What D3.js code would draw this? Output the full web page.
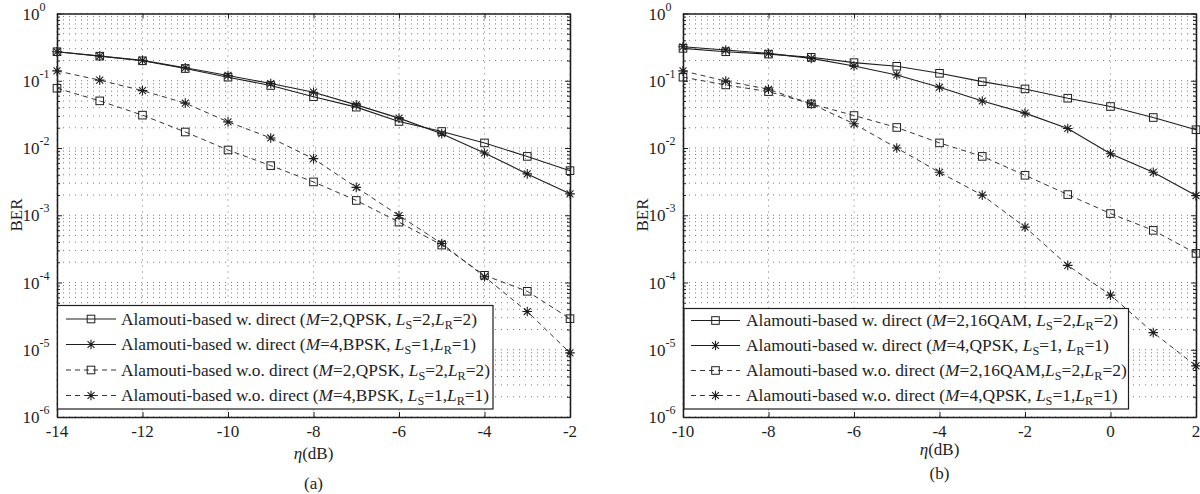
<!DOCTYPE html>
<html><head><meta charset="utf-8">
<script src="https://cdn.jsdelivr.net/npm/d3@7"></script>
<style>body{margin:0;background:#fff}svg{display:block}</style>
</head><body>
<svg id="c" width="1200" height="494"></svg>
<script>
// ---------- data ----------
const etaA = [-14,-13,-12,-11,-10,-9,-8,-7,-6,-5,-4,-3,-2];
const berA_wDirect_M2 = [0.27,0.232,0.198,0.152,0.113,0.085,0.058,0.0405,0.0248,0.0176,0.0119,0.0075,0.0046];
const berA_wDirect_M4 = [0.27,0.233,0.201,0.156,0.12,0.091,0.0676,0.0438,0.0278,0.0163,0.00843,0.00412,0.00208];
const berA_woDirect_M2 = [0.0774,0.0502,0.0308,0.0173,0.00934,0.00547,0.00313,0.00166,0.00079,0.00036,0.000128,0.000074,0.000029];
const berA_woDirect_M4 = [0.14,0.102,0.0713,0.0465,0.0245,0.0141,0.00694,0.0026,0.00099,0.00038,0.000122,0.000037,0.000009];

const etaB = [-10,-9,-8,-7,-6,-5,-4,-3,-2,-1,0,1,2];
const berB_wDirect_M2 = [0.303,0.27,0.249,0.223,0.186,0.164,0.129,0.097,0.0756,0.055,0.0414,0.0284,0.0187];
const berB_wDirect_M4 = [0.32,0.286,0.255,0.215,0.166,0.122,0.08,0.05,0.033,0.0195,0.0082,0.00435,0.00196];
const berB_woDirect_M2 = [0.113,0.0867,0.069,0.0453,0.0304,0.0202,0.0119,0.0075,0.00393,0.00203,0.00106,0.000596,0.000271];
const berB_woDirect_M4 = [0.14,0.099,0.0748,0.0453,0.0229,0.01,0.00435,0.00199,0.000667,0.00018,0.000065,0.000018,0.00000575];

const xTicksA = [-14,-12,-10,-8,-6,-4,-2];
const xTicksB = [-10,-8,-6,-4,-2,0,2];
const yDecades = [-6,-5,-4,-3,-2,-1,0];

const legendA = [
  "Alamouti-based w. direct (*M*=2,QPSK, *L*_S=2,*L*_R=2)",
  "Alamouti-based w. direct (*M*=4,BPSK, *L*_S=1,*L*_R=1)",
  "Alamouti-based w.o. direct (*M*=2,QPSK, *L*_S=2,*L*_R=2)",
  "Alamouti-based w.o. direct (*M*=4,BPSK, *L*_S=1,*L*_R=1)"
];
const legendB = [
  "Alamouti-based w. direct (*M*=2,16QAM, *L*_S=2,*L*_R=2)",
  "Alamouti-based w. direct (*M*=4,QPSK, *L*_S=1, *L*_R=1)",
  "Alamouti-based w.o. direct (*M*=2,16QAM,*L*_S=2,*L*_R=2)",
  "Alamouti-based w.o. direct (*M*=4,QPSK, *L*_S=1,*L*_R=1)"
];
const xLabel = "(dB)";
const yLabel = "BER";
const captions = ["(a)", "(b)"];

// ---------- drawing ----------
const svg = d3.select('#c');
const FONT = '"Liberation Serif","Times New Roman",serif';
const Y_TOP = 13.5, Y_BOT = 417;
const INK = '#1e1e1e';

const seriesStyles = [
  {marker:'square', dash:null},
  {marker:'star', dash:null},
  {marker:'square', dash:'5,4'},
  {marker:'star', dash:'5,4'}
];

function drawMarker(g, type, cx, cy) {
  if (type === 'square') {
    g.append('rect').attr('x', cx-3.8).attr('y', cy-3.8).attr('width', 7.6).attr('height', 7.6)
      .attr('fill','none').attr('stroke', INK).attr('stroke-width', 1);
  } else {
    const r = 4.8, d = r*0.72;
    const p = `M${cx-r},${cy}L${cx+r},${cy}M${cx},${cy-r}L${cx},${cy+r}M${cx-d},${cy-d}L${cx+d},${cy+d}M${cx-d},${cy+d}L${cx+d},${cy-d}`;
    g.append('path').attr('d', p).attr('stroke', INK).attr('stroke-width', 1.1).attr('fill','none');
  }
}

function parseRich(s) {
  const out = [];
  const re = /\*([^*]+)\*|_(\w)|([^*_]+)/g;
  let m;
  while ((m = re.exec(s))) {
    if (m[1]) out.push({t:m[1], it:true});
    else if (m[2]) out.push({t:m[2], sub:true});
    else out.push({t:m[3]});
  }
  return out;
}

function richText(g, x, y, str, size) {
  const t = g.append('text').attr('x', x).attr('y', y)
    .attr('font-family', FONT).attr('font-size', size).attr('fill', INK);
  let shift = 0;
  parseRich(str).forEach(seg => {
    const ts = t.append('tspan').text(seg.t);
    if (seg.it) ts.attr('font-style','italic');
    if (seg.sub) {
      ts.attr('font-size', size*0.7).attr('dy', 4 - shift); shift = 4;
    } else if (shift !== 0) {
      ts.attr('dy', -shift); shift = 0;
    }
  });
  return t;
}

function panel(cfg) {
  const g = svg.append('g');
  const x = d3.scaleLinear().domain(cfg.domain).range([cfg.x0, cfg.x1]);
  const y = d3.scaleLog().domain([1e-6, 1]).range([Y_BOT, Y_TOP]);

  const majorY = yDecades.map(e => Math.pow(10, e));
  const minorY = [];
  yDecades.slice(0, -1).forEach(e => { for (let k = 2; k <= 9; k++) minorY.push(k*Math.pow(10, e)); });

  // grid
  const grid = g.append('g').attr('stroke', '#6a6a6a').attr('stroke-width', 0.9)
    .attr('stroke-dasharray', '1,5').attr('fill','none');
  majorY.concat(minorY).forEach(v => {
    grid.append('line').attr('x1', cfg.x0).attr('x2', cfg.x1).attr('y1', y(v)).attr('y2', y(v));
  });
  cfg.xTicks.forEach(v => {
    grid.append('line').attr('x1', x(v)).attr('x2', x(v)).attr('y1', Y_TOP).attr('y2', Y_BOT);
  });

  // series
  const line = d3.line().x(d => x(d[0])).y(d => y(d[1]));
  cfg.series.forEach((vals, i) => {
    const st = seriesStyles[i];
    const pts = cfg.eta.map((e, j) => [e, vals[j]]);
    g.append('path').attr('d', line(pts)).attr('fill','none').attr('stroke', INK)
      .attr('stroke-width', st.dash ? 0.9 : 1.1).attr('stroke-dasharray', st.dash);
    pts.forEach(p => drawMarker(g, st.marker, x(p[0]), y(p[1])));
  });

  // axes (ticks inward)
  const ax = g.append('g').attr('font-family', FONT);
  ax.append('g').attr('transform', `translate(0,${Y_BOT})`)
    .call(d3.axisBottom(x).tickValues(cfg.xTicks).tickSize(-5).tickSizeOuter(0).tickFormat(''));
  ax.append('g').attr('transform', `translate(0,${Y_TOP})`)
    .call(d3.axisTop(x).tickValues(cfg.xTicks).tickSize(-5).tickSizeOuter(0).tickFormat(''));
  ax.append('g').attr('transform', `translate(${cfg.x0},0)`)
    .call(d3.axisLeft(y).tickValues(majorY).tickSize(-5).tickSizeOuter(0).tickFormat(''));
  ax.append('g').attr('transform', `translate(${cfg.x0},0)`)
    .call(d3.axisLeft(y).tickValues(minorY).tickSize(-3).tickSizeOuter(0).tickFormat(''));
  ax.append('g').attr('transform', `translate(${cfg.x1},0)`)
    .call(d3.axisRight(y).tickValues(majorY).tickSize(-5).tickSizeOuter(0).tickFormat(''));
  ax.append('g').attr('transform', `translate(${cfg.x1},0)`)
    .call(d3.axisRight(y).tickValues(minorY).tickSize(-3).tickSizeOuter(0).tickFormat(''));
  ax.selectAll('.domain').attr('stroke', INK).attr('stroke-width', 1.3);
  ax.selectAll('.tick line').attr('stroke', INK).attr('stroke-width', 1);

  // x tick labels
  cfg.xTicks.forEach(v => {
    g.append('text').attr('x', x(v)).attr('y', 437).attr('text-anchor','middle')
      .attr('font-family', FONT).attr('font-size', 17).attr('fill', INK).text(String(v));
  });
  // y tick labels
  yDecades.forEach(e => {
    const t = g.append('text').attr('x', cfg.x0 - 34.5).attr('y', y(Math.pow(10, e)) + 6)
      .attr('font-family', FONT).attr('font-size', 17).attr('fill', INK);
    t.append('tspan').text('10');
    t.append('tspan').attr('dy', -9).attr('font-size', 12).text(String(e));
  });
  // y label
  g.append('text').attr('transform', `translate(${cfg.yLabelX},215) rotate(-90)`)
    .attr('text-anchor','middle').attr('font-family', FONT).attr('font-size', 17).attr('fill', INK).text(yLabel);
  // x label
  const xl = g.append('text').attr('x', (cfg.x0 + cfg.x1)/2).attr('y', cfg.xLabelY).attr('text-anchor','middle')
    .attr('font-family', FONT).attr('font-size', 17).attr('fill', INK);
  xl.append('tspan').attr('font-style','italic').text('\u03B7');
  xl.append('tspan').text(xLabel);
  // caption
  g.append('text').attr('x', (cfg.x0 + cfg.x1)/2).attr('y', cfg.captionY).attr('text-anchor','middle')
    .attr('font-family', FONT).attr('font-size', 17).attr('fill', INK).text(cfg.caption);

  // legend
  const L = cfg.legend;
  const lg = g.append('g');
  lg.append('rect').attr('x', L.x).attr('y', L.y).attr('width', L.w).attr('height', L.h)
    .attr('fill', '#fff').attr('stroke', INK).attr('stroke-width', 1.2);
  const base = 16;
  const texts = cfg.labels.map((s, i) => richText(lg, L.textX, L.rowY[i] + 5.5, s, base));
  const maxLen = d3.max(texts, t => t.node().getComputedTextLength());
  const size = base * L.target / maxLen;
  lg.selectAll('text').remove();
  cfg.labels.forEach((s, i) => {
    richText(lg, L.textX, L.rowY[i] + 5.5, s, size);
    const st = seriesStyles[i];
    lg.append('line').attr('x1', L.lx0).attr('x2', L.lx1).attr('y1', L.rowY[i]).attr('y2', L.rowY[i])
      .attr('stroke', INK).attr('stroke-width', st.dash ? 0.9 : 1.1).attr('stroke-dasharray', st.dash);
    drawMarker(lg, st.marker, (L.lx0 + L.lx1)/2, L.rowY[i]);
  });
}

panel({
  x0: 57, x1: 570, domain: [-14, -2], xTicks: xTicksA, eta: etaA,
  series: [berA_wDirect_M2, berA_wDirect_M4, berA_woDirect_M2, berA_woDirect_M4],
  labels: legendA, caption: captions[0], yLabelX: 22, xLabelY: 459, captionY: 489,
  legend: {x: 57.5, y: 305.5, w: 435.5, h: 103.5, lx0: 66, lx1: 116, textX: 121,
           rowY: [319, 344.5, 370, 395.5], target: 369}
});
panel({
  x0: 683, x1: 1196, domain: [-10, 2], xTicks: xTicksB, eta: etaB,
  series: [berB_wDirect_M2, berB_wDirect_M4, berB_woDirect_M2, berB_woDirect_M4],
  labels: legendB, caption: captions[1], yLabelX: 648, xLabelY: 455, captionY: 479,
  legend: {x: 684, y: 308.5, w: 444.5, h: 100.5, lx0: 691, lx1: 740, textX: 746,
           rowY: [320.5, 345.5, 370.5, 395.5], target: 381}
});
</script>
</body></html>
